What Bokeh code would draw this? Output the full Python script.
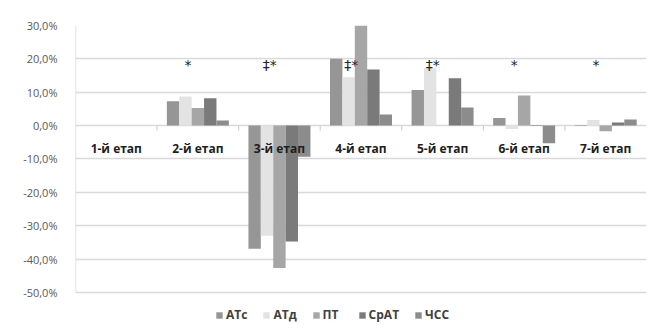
from bokeh.plotting import figure
from bokeh.models import ColumnDataSource, Range1d, FixedTicker, Legend, LegendItem
from bokeh.transform import dodge
from bokeh.core.properties import value
from bokeh.embed import file_html
from bokeh.resources import INLINE

categories = ["1-й етап", "2-й етап", "3-й етап", "4-й етап", "5-й етап", "6-й етап", "7-й етап"]
series_names = ["АТс", "АТд", "ПТ", "СрАТ", "ЧСС"]
atc = [0.0, 7.3, -36.9, 20.0, 10.7, 2.3, 0.2]
atd = [0.0, 8.7, -33.0, 14.5, 17.2, -1.0, 1.7]
pt = [0.0, 5.3, -42.7, 30.5, 0.0, 9.0, -1.7]
srat = [0.0, 8.2, -34.7, 16.8, 14.2, 0.2, 0.9]
chss = [0.0, 1.5, -9.3, 3.3, 5.4, -5.3, 1.8]
marks = ["", "*", "‡*", "‡*", "‡*", "*", "*"]
y_ticks = [30, 20, 10, 0, -10, -20, -30, -40, -50]

colors = ["#969696", "#e3e3e3", "#a6a6a6", "#7a7a7a", "#8c8c8c"]
FONT = "Open Sans"

n = len(categories)
idx = list(range(n))
src = ColumnDataSource(dict(x=idx, cat=categories, s0=atc, s1=atd, s2=pt, s3=srat, s4=chss,
                            mark=marks, mark_y=[18.3] * n, lab_y=[-6.9] * n))

p = figure(x_range=Range1d(-0.5, n - 0.5), y_range=Range1d(-60.2, max(y_ticks)),
           width=654, height=326, output_backend="svg", toolbar_location=None,
           min_border_left=75, min_border_right=8, min_border_top=25, min_border_bottom=0)
p.outline_line_color = None
p.xaxis.visible = False

bw = 0.152
items = []
for i, name in enumerate(series_names):
    r = p.vbar(x=dodge("x", (i - 2) * bw), top="s%d" % i, bottom=0,
               width=bw, source=src, fill_color=colors[i], line_color=None)
    items.append(LegendItem(label=name, renderers=[r]))

# category boundary ticks on the zero line
bsrc = ColumnDataSource(dict(bx=[i - 0.5 for i in range(1, n)], y0=[0.0] * (n - 1),
                             y1=[-1.5] * (n - 1)))
p.segment(x0="bx", x1="bx", y0="y0", y1="y1", source=bsrc, line_color="#c8c8c8", line_width=1)

# vertical value axis line spanning the tick range
p.segment(x0=[-0.5], x1=[-0.5], y0=[min(y_ticks)], y1=[max(y_ticks)],
          line_color="#d9d9d9", line_width=1.5)

# category labels just under the zero line
p.text(x="x", y="lab_y", text="cat", source=src,
       text_align="center", text_baseline="middle", text_font=value(FONT),
       text_font_size="12px", text_font_style="bold", text_color="#1e1e1e")

# significance marks
p.text(x=dodge("x", -0.12), y="mark_y", text="mark", source=src,
       text_align="center", text_baseline="middle", text_font=value("DejaVu Sans"),
       text_font_size="14px", text_color="#262626")

p.yaxis.ticker = FixedTicker(ticks=y_ticks)
p.yaxis.major_label_overrides = {t: ("%.1f%%" % t).replace(".", ",") for t in y_ticks}
p.yaxis.axis_line_color = None
p.yaxis.major_tick_line_color = None
p.yaxis.minor_tick_line_color = None
p.yaxis.major_label_text_color = "#595959"
p.yaxis.major_label_text_font = FONT
p.yaxis.major_label_text_font_size = "11px"
p.yaxis.major_label_standoff = 12

p.ygrid.ticker = FixedTicker(ticks=y_ticks)
p.ygrid.grid_line_color = "#d9d9d9"
p.ygrid.grid_line_width = 1.5
p.xgrid.grid_line_color = None

legend = Legend(items=items, orientation="horizontal", location=(140, 3),
                glyph_width=8, glyph_height=8, label_height=10, label_text_font=FONT,
                label_text_font_size="12px", label_text_font_style="bold",
                label_text_color="#404040", label_standoff=3, spacing=15,
                padding=0, margin=0, border_line_color=None, background_fill_alpha=0)
p.add_layout(legend)

open("out.html", "w").write(file_html(p, INLINE))
